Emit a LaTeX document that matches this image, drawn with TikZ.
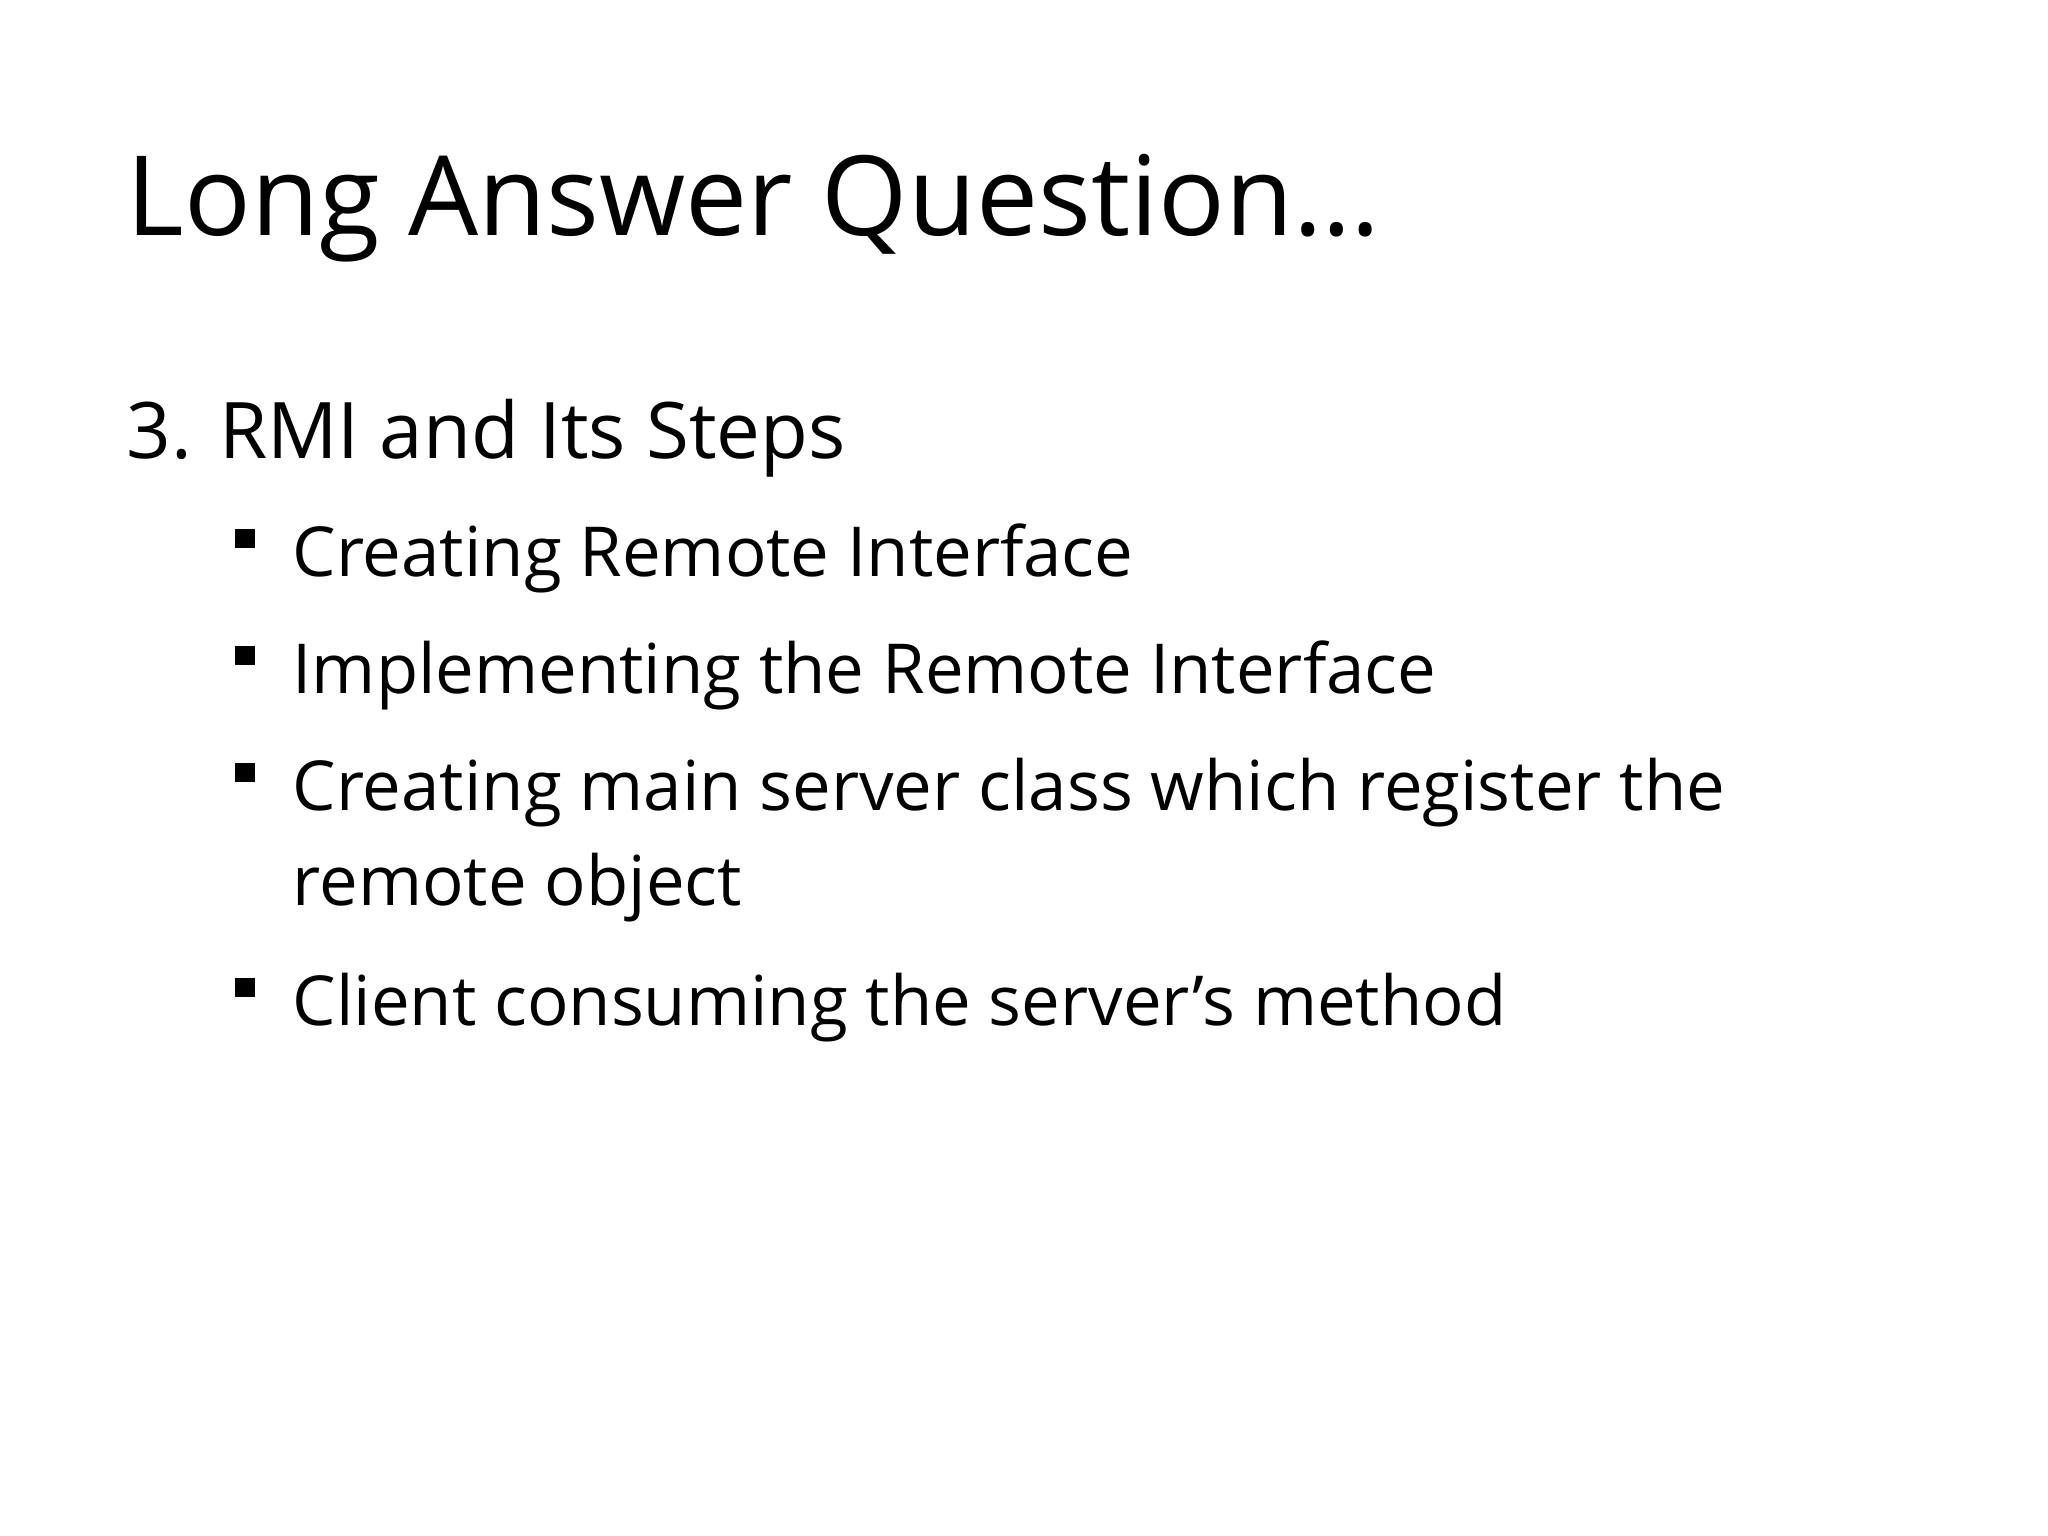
\documentclass[tikz,border=0pt]{standalone}
\usepackage{fontspec}
\setmainfont{Open Sans}
\begin{document}
\begin{tikzpicture}[x=0.01cm,y=-0.01cm,
  txt/.style={anchor=base west,inner sep=0pt},
  blt/.style={fill=black,minimum size=0.19cm,inner sep=0pt}]
\useasboundingbox (0,0) rectangle (2048,1536);
\node[txt,font=\fontsize{31.5}{38}\selectfont] (title) at (126,235) {Long Answer Question…};
\node[txt,font=\fontsize{22.2}{27}\selectfont] (sub) at (126,458) {3. RMI and Its Steps};
\foreach \n/\y/\t in {a/576/Creating Remote Interface, b/693/Implementing the Remote Interface, c/810/Creating main server class which register the, e/1025/Client consuming the server’s method}{
  \node[txt,font=\fontsize{19.6}{24}\selectfont] (\n) at (292,\y) {\t};
  \node[blt] (b\n) at (245,\y-38) {};
}
\node[txt,font=\fontsize{19.6}{24}\selectfont] (d) at (292,905) {remote object};
\end{tikzpicture}
\end{document}
